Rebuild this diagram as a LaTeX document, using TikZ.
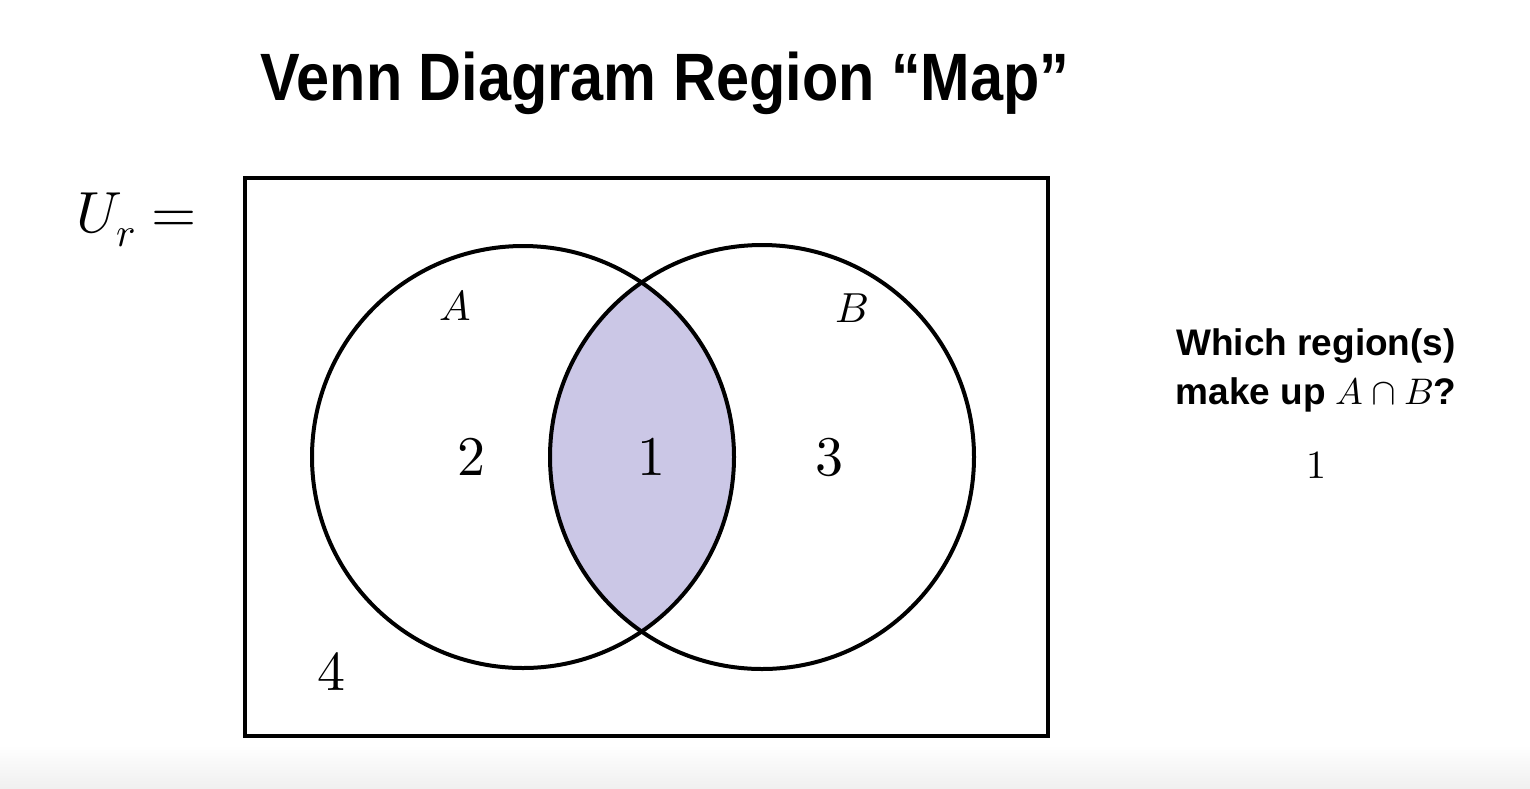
\documentclass[tikz,border=0pt]{standalone}
\usepackage{fontspec}
\setmainfont{Liberation Sans}
\usepackage{unicode-math}
\setmathfont{Latin Modern Math}
\definecolor{lens}{HTML}{CBC7E6}
\definecolor{band}{HTML}{F0F0F0}
\tikzset{
  venn/.style={draw=black, line width=4pt},
  frame/.style={draw=black, line width=4pt},
  num/.style={font=\fontsize{56}{60}\selectfont, inner sep=0pt},
  setlabel/.style={font=\fontsize{42}{46}\selectfont, inner sep=0pt},
  question/.style={inner sep=0pt, anchor=base},
}
\newcommand{\qtext}[1]{{\fontsize{37}{42}\selectfont\bfseries #1}}
\begin{document}
\begin{tikzpicture}[x=1pt,y=-1pt]
\useasboundingbox (0,0) rectangle (1530,788);
\fill[white] (0,0) rectangle (1530,788);
\shade[top color=white, bottom color=band] (0,745) rectangle (1530,788);
% title
\node[inner sep=0pt, anchor=base] (title) at (665,100) {\scalebox{0.887}[1]{\fontsize{67}{70}\selectfont\bfseries Venn Diagram Region “Map”}};
% U_r
\node[inner sep=0pt, anchor=base] (Ur) at (137,232) {\fontsize{58}{62}\selectfont $U_r=$};
% intersection fill
\begin{scope}
  \clip (523,457) circle (211);
  \fill[lens] (762,457) circle (212);
\end{scope}
\node[frame, minimum width=803, minimum height=558, inner sep=0pt] (U) at (646.5,457) {};
\node[venn, circle, minimum size=422, inner sep=0pt] (A) at (523,457) {};
\node[venn, circle, minimum size=424, inner sep=0pt] (B) at (762,457) {};
\node[setlabel] (la) at (455,305) {$A$};
\node[setlabel] (lb) at (852,308) {$B$};
\node[num] (r2) at (471,457) {$2$};
\node[num] (r1) at (651,457) {$1$};
\node[num] (r3) at (829,457) {$3$};
\node[num] (r4) at (331,672) {$4$};
\node[question] (q1) at (1316,355) {\qtext{Which region(s)}};
\node[question] (q2) at (1316,404) {\qtext{make up $A\cap B$?}};
\node[inner sep=0pt, anchor=base, font=\fontsize{40}{44}\selectfont] (ans) at (1316,478) {$1$};
\end{tikzpicture}
\end{document}
